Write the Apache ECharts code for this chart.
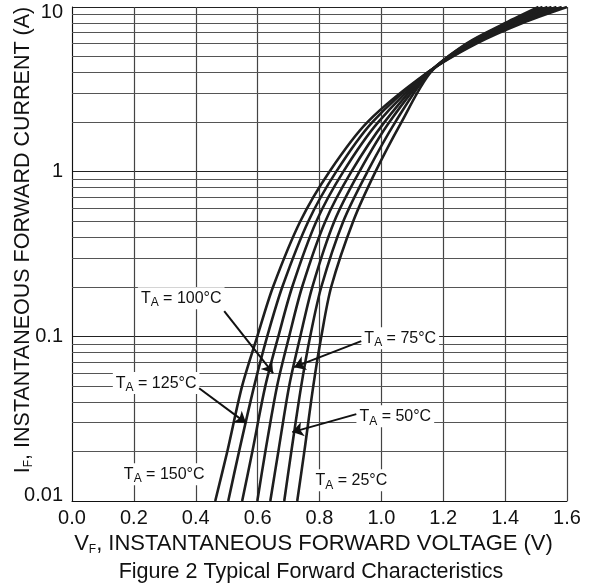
<!DOCTYPE html>
<html>
<head>
<meta charset="utf-8">
<script src="https://cdn.jsdelivr.net/npm/echarts@6/dist/echarts.min.js"></script>
<style>html,body{margin:0;padding:0;background:#fff}#c{width:590px;height:588px}</style>
</head>
<body>
<div id="c"></div>
<script>
// Forward current levels (A) at which the voltages are read
const currents = [0.01, 0.02, 0.05, 0.1, 0.2, 0.5, 1, 2, 4, 6, 8, 10];
// Forward voltage (V) for each curve, hottest (left at low current) to coldest
const vf150 = [0.463, 0.502, 0.550, 0.599, 0.650, 0.738, 0.832, 0.955, 1.149, 1.307, 1.456, 1.600];
const vf125 = [0.505, 0.540, 0.589, 0.631, 0.680, 0.764, 0.854, 0.971, 1.149, 1.301, 1.443, 1.583];
const vf100 = [0.550, 0.583, 0.625, 0.667, 0.712, 0.790, 0.877, 0.990, 1.152, 1.294, 1.434, 1.566];
const vf90  = [0.599, 0.625, 0.663, 0.702, 0.744, 0.819, 0.903, 1.010, 1.152, 1.288, 1.424, 1.550];
const vf75  = [0.641, 0.667, 0.702, 0.738, 0.777, 0.848, 0.929, 1.026, 1.155, 1.285, 1.417, 1.537];
const vf50  = [0.686, 0.709, 0.741, 0.770, 0.806, 0.877, 0.955, 1.045, 1.155, 1.278, 1.408, 1.521];
const vf25  = [0.728, 0.751, 0.780, 0.806, 0.838, 0.909, 0.981, 1.065, 1.159, 1.275, 1.401, 1.508];
const curveNames = ['150°C', '125°C', '100°C', '90°C', '75°C', '50°C', '25°C'];
const curveValues = [vf150, vf125, vf100, vf90, vf75, vf50, vf25];
// Axis ticks
const xTicks = ['0.0', '0.2', '0.4', '0.6', '0.8', '1.0', '1.2', '1.4', '1.6'];
const yTicks = ['0.01', '0.1', '1', '10'];
const minorCurrents = [0.02,0.03,0.04,0.05,0.06,0.07,0.08,0.09,0.2,0.3,0.4,0.5,0.6,0.7,0.8,0.9,2,3,4,5,6,7,8,9];
// Annotation labels: temperature, label anchor [V, I], arrow [from, to] or null
const annTemps = ['100', '125', '150', '75', '50', '25'];
const annAt = [[0.353, 0.1706], [0.272, 0.052], [0.298, 0.01455], [1.061, 0.0975], [1.045, 0.0327], [0.903, 0.01336]];
const annArrows = [
  [[0.492, 0.1422], [0.650, 0.0598]],
  [[0.411, 0.0484], [0.563, 0.0297]],
  null,
  [[0.935, 0.0936], [0.718, 0.0650]],
  [[0.919, 0.0337], [0.712, 0.0262]],
  null
];

const FONT = 'Liberation Sans, Arial, sans-serif';
const chart = echarts.init(document.getElementById('c'), null, {renderer: 'canvas'});

const curveSeries = curveValues.map((vals, k) => ({
  name: curveNames[k],
  type: 'line',
  data: vals.map((v, i) => [v, currents[i]]),
  showSymbol: false,
  smooth: 0.3,
  lineStyle: {color: '#1e1e1e', width: 2.6},
  z: 5,
  silent: true
}));

const gridSeries = {
  type: 'line',
  data: [],
  silent: true,
  z: 1,
  markLine: {
    silent: true,
    symbol: ['none', 'none'],
    label: {show: false},
    lineStyle: {color: '#555', width: 1, type: 'solid'},
    data: minorCurrents.map(c => ({yAxis: c})),
    animation: false
  }
};

const annSeries = {
  type: 'line',
  data: [],
  silent: true,
  z: 10,
  markLine: {
    silent: true,
    symbol: ['none', 'arrow'],
    symbolSize: 11,
    label: {show: false},
    lineStyle: {color: '#111', width: 2, type: 'solid'},
    data: annArrows.filter(a => a).map(a => [{coord: a[0]}, {coord: a[1]}]),
    animation: false,
    z: 10
  },
  markPoint: {
    silent: true,
    symbol: 'rect',
    symbolSize: 1,
    itemStyle: {color: 'rgba(0,0,0,0)'},
    animation: false,
    data: annTemps.map((t, i) => ({
      coord: annAt[i],
      label: {
        show: true,
        position: 'inside',
        formatter: '{a|T}{b|A}{a| = ' + t + '°C}',
        backgroundColor: '#fff',
        padding: [1, 3, 1, 3],
        rich: {
          a: {fontSize: 16, color: '#111', fontFamily: FONT, lineHeight: 20},
          b: {fontSize: 12, color: '#111', fontFamily: FONT, padding: [10, 0, 0, 0], lineHeight: 20}
        }
      }
    }))
  }
};

chart.setOption({
  animation: false,
  backgroundColor: '#fff',
  title: {
    text: 'Figure 2 Typical Forward Characteristics',
    left: 306,
    textAlign: 'center',
    top: 556,
    textStyle: {fontSize: 21.5, fontWeight: 'normal', color: '#111', fontFamily: FONT}
  },
  graphic: [{
    type: 'text',
    x: 23,
    y: 240,
    rotation: Math.PI / 2,
    silent: true,
    style: {
      text: '{a|I}{b|F}{a|, INSTANTANEOUS FORWARD CURRENT (A)}',
      align: 'center',
      verticalAlign: 'middle',
      rich: {
        a: {fontSize: 21.5, fill: '#111', fontFamily: FONT, lineHeight: 24},
        b: {fontSize: 12, fill: '#111', fontFamily: FONT, padding: [11, 0, 0, 0], lineHeight: 24}
      }
    }
  }],
  grid: {left: 72, right: 23, top: 7, bottom: 87, containLabel: false, outerBoundsMode: 'none'},
  xAxis: {
    type: 'value',
    min: 0, max: 1.6, interval: 0.2,
    axisLine: {show: true, lineStyle: {color: '#111', width: 1}},
    axisTick: {show: false},
    axisLabel: {
      margin: 7,
      fontSize: 20, color: '#111', fontFamily: FONT,
      formatter: v => xTicks[Math.round(v / 0.2)]
    },
    splitLine: {show: true, lineStyle: {color: '#444', width: 1.2}},
    name: '{a|V}{b|F}{a|, INSTANTANEOUS FORWARD VOLTAGE (V)}',
    nameLocation: 'middle',
    nameGap: 31,
    nameTextStyle: {
      padding: [0, 12, 0, 0],
      rich: {
        a: {fontSize: 22, color: '#111', fontFamily: FONT, lineHeight: 24},
        b: {fontSize: 12, color: '#111', fontFamily: FONT, padding: [11, 0, 0, 0], lineHeight: 24}
      }
    }
  },
  yAxis: {
    type: 'log',
    logBase: 10,
    min: 0.01, max: 10,
    axisLine: {show: true, lineStyle: {color: '#111', width: 1}},
    axisTick: {show: false},
    axisLabel: {
      margin: 9,
      fontSize: 20, color: '#111', fontFamily: FONT,
      formatter: v => {
        const idx = Math.round(Math.log10(v)) + 2;
        const t = yTicks[idx];
        if (idx === 3) return '{top|' + t + '}';
        if (idx === 0) return '{bot|' + t + '}';
        return t;
      },
      rich: {
        top: {fontSize: 20, color: '#111', fontFamily: FONT, padding: [10, 0, 0, 0]},
        bot: {fontSize: 20, color: '#111', fontFamily: FONT, padding: [0, 0, 12, 0]}
      }
    },
    splitLine: {show: true, lineStyle: {color: '#222', width: 1}}
  },
  series: [gridSeries].concat(curveSeries, [annSeries])
});
</script>
</body>
</html>
